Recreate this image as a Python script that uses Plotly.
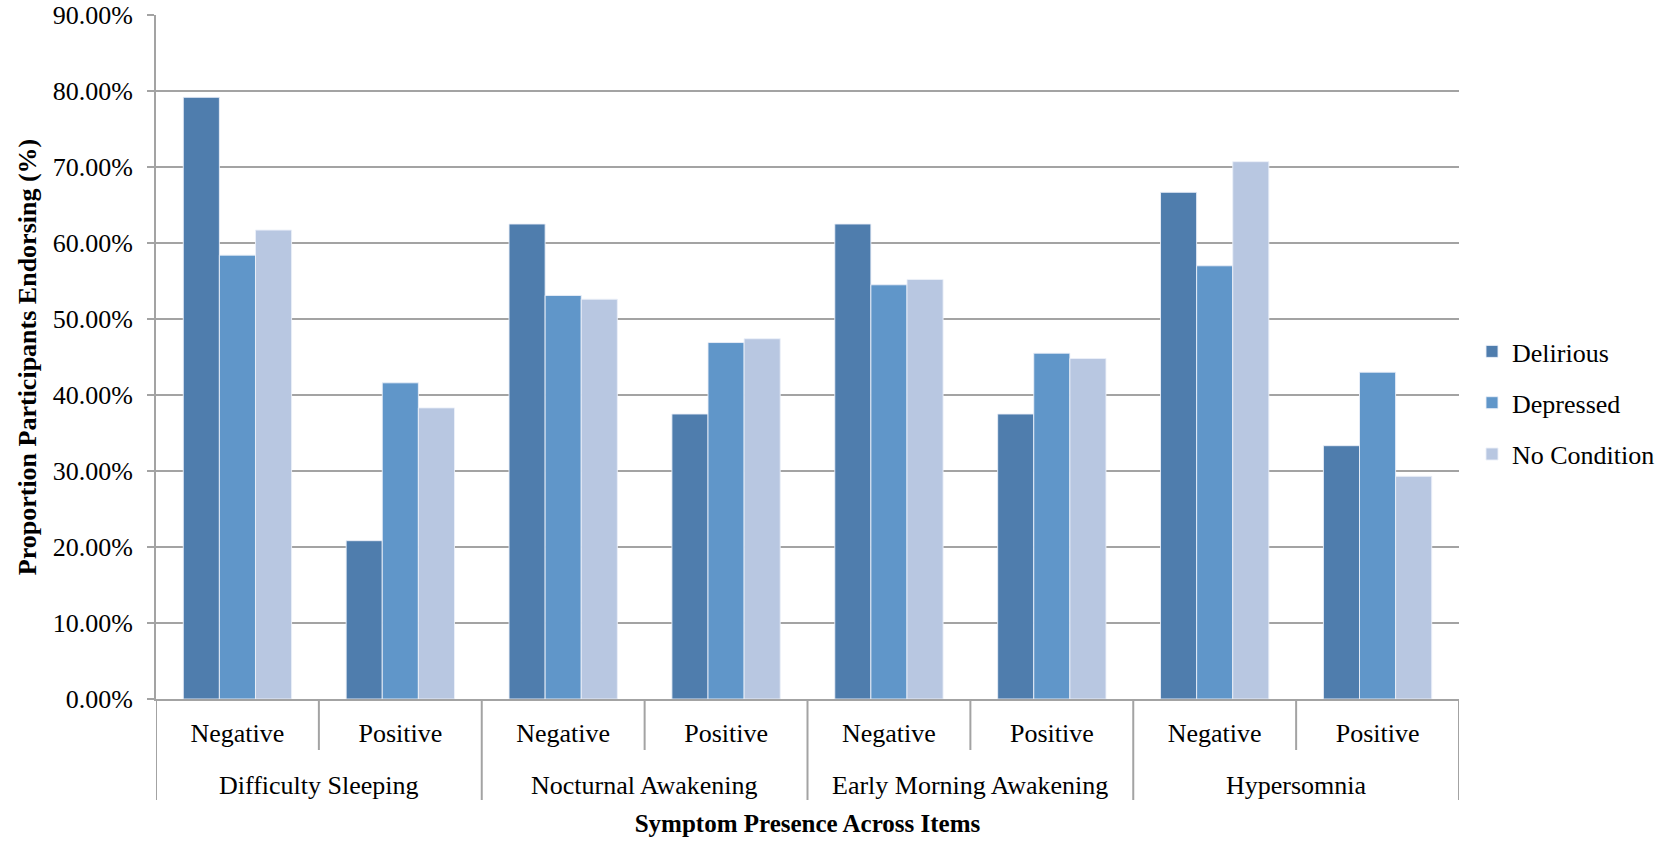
import plotly.graph_objects as go

# Symptom items (outer level) and screening result (inner level)
items = ["Difficulty Sleeping", "Nocturnal Awakening", "Early Morning Awakening", "Hypersomnia"]
results = ["Negative", "Positive"]

# Proportion of participants endorsing (%), ordered item by item, Negative then Positive
delirious = [79.17, 20.83, 62.50, 37.50, 62.50, 37.50, 66.67, 33.33]
depressed = [58.40, 41.60, 53.10, 46.90, 54.50, 45.50, 57.00, 43.00]
no_condition = [61.70, 38.30, 52.60, 47.40, 55.20, 44.80, 70.70, 29.30]

series_names = ["Delirious", "Depressed", "No Condition"]
series_values = [delirious, depressed, no_condition]
series_colors = ["#4F7DAD", "#6096C9", "#B8C7E1"]

y_ticks = [0, 10, 20, 30, 40, 50, 60, 70, 80, 90]
y_ticklabels = [f"{v:.2f}%" for v in y_ticks]

FONT = "Liberation Serif, Times New Roman, serif"
GRID = "#A3A3A3"

W, H = 1673, 841
M = dict(l=156, r=214, t=15, b=142)
plot_h = H - M["t"] - M["b"]

# one slot per (item, result) pair along the x axis
n_res = len(results)
slots = list(range(len(items) * n_res))
inner_labels = [r for _ in items for r in results]

fig = go.Figure()
for i, (name, vals, col) in enumerate(zip(series_names, series_values, series_colors)):
    fig.add_trace(go.Bar(
        x=slots,
        y=vals,
        name=name,
        legendgroup=f"g{i}",
        marker=dict(color=col, line=dict(color="rgba(235,240,248,0.9)", width=1)),
    ))

# separators of the two-level category band below the plot
shapes = []
inner_len = 51 / plot_h
outer_len = 101 / plot_h
for g in range(len(items)):
    for k in range(1, n_res):
        xb = g * n_res + k - 0.5
        shapes.append(dict(type="line", xref="x", yref="paper", x0=xb, x1=xb,
                           y0=0, y1=-inner_len, line=dict(color=GRID, width=2)))
for g in range(len(items) + 1):
    xb = g * n_res - 0.5
    shapes.append(dict(type="line", xref="x", yref="paper", x0=xb, x1=xb,
                       y0=0, y1=-outer_len, line=dict(color=GRID, width=2)))

# outer-level labels centred under each item's pair of slots
annotations = []
for g, item in enumerate(items):
    xc = g * n_res + (n_res - 1) / 2
    annotations.append(dict(x=xc, y=0, xref="x", yref="paper", text=item,
                            showarrow=False, yanchor="middle", yshift=-86,
                            font=dict(family=FONT, size=26, color="black")))

fig.update_layout(
    width=W,
    height=H,
    margin=M,
    paper_bgcolor="white",
    plot_bgcolor="white",
    barmode="group",
    bargap=0.335,
    bargroupgap=0,
    font=dict(family=FONT, size=26, color="black"),
    showlegend=True,
    legend=dict(
        xref="container", yref="container",
        x=1472 / W, xanchor="left",
        y=1 - 403 / H, yanchor="middle",
        font=dict(family=FONT, size=26, color="black"),
        tracegroupgap=14.5,
        itemwidth=30,
        bgcolor="rgba(0,0,0,0)",
    ),
    shapes=shapes,
    annotations=annotations,
    xaxis=dict(
        range=[-0.5, len(slots) - 0.5],
        tickvals=slots,
        ticktext=inner_labels,
        showgrid=False,
        zeroline=False,
        showline=True,
        linecolor=GRID,
        linewidth=2,
        ticks="",
        ticklabelstandoff=10,
        automargin=False,
        tickfont=dict(family=FONT, size=26, color="black"),
        title=dict(text="<b>Symptom Presence Across Items</b>",
                   font=dict(family=FONT, size=25, color="black"), standoff=67),
    ),
    yaxis=dict(
        range=[0, 90],
        tickvals=y_ticks,
        ticktext=y_ticklabels,
        showgrid=True,
        gridcolor=GRID,
        gridwidth=2,
        showline=True,
        linecolor=GRID,
        linewidth=2,
        ticks="outside",
        ticklen=7,
        tickcolor=GRID,
        tickwidth=2,
        zeroline=False,
        automargin=False,
        ticklabelstandoff=9,
        tickfont=dict(family=FONT, size=26, color="black"),
        title=dict(text="<b>Proportion Participants Endorsing (%)</b>",
                   font=dict(family=FONT, size=26, color="black"), standoff=9),
    ),
)

fig.write_html("out.html")
